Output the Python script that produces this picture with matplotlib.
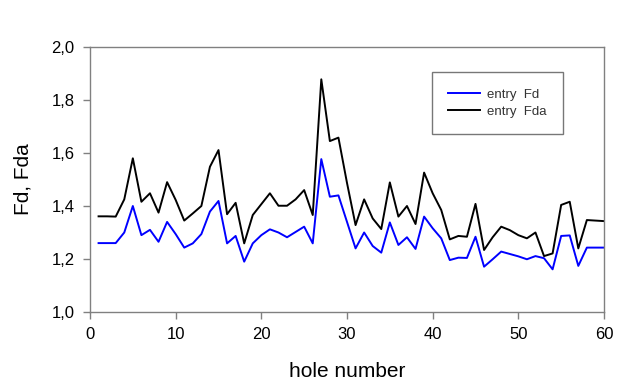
import matplotlib.pyplot as plt
from matplotlib.ticker import FuncFormatter

plt.rcParams['font.family'] = ['Liberation Sans', 'DejaVu Sans']

holes = list(range(1, 61))

entry_fd = [1.26, 1.26, 1.26, 1.30, 1.40, 1.29, 1.31, 1.265, 1.34, 1.294,
            1.243, 1.259, 1.294, 1.379, 1.419, 1.259, 1.287, 1.19, 1.259, 1.29,
            1.312, 1.30, 1.282, 1.302, 1.322, 1.259, 1.577, 1.435, 1.44, 1.34,
            1.24, 1.30, 1.249, 1.224, 1.338, 1.253, 1.282, 1.238, 1.36, 1.316,
            1.278, 1.196, 1.205, 1.204, 1.284, 1.171, 1.199, 1.228, 1.219, 1.21,
            1.199, 1.211, 1.203, 1.161, 1.287, 1.289, 1.174, 1.243, 1.243, 1.243]

entry_fda = [1.361, 1.361, 1.36, 1.425, 1.58, 1.416, 1.448, 1.375, 1.49, 1.423,
             1.345, 1.372, 1.40, 1.548, 1.611, 1.369, 1.412, 1.259, 1.366, 1.407,
             1.448, 1.401, 1.401, 1.425, 1.46, 1.366, 1.878, 1.645, 1.658, 1.487,
             1.328, 1.425, 1.353, 1.313, 1.489, 1.36, 1.40, 1.332, 1.526, 1.448,
             1.385, 1.274, 1.287, 1.284, 1.408, 1.234, 1.282, 1.322, 1.309, 1.29,
             1.278, 1.30, 1.211, 1.221, 1.404, 1.416, 1.24, 1.347, 1.345, 1.343]

fig = plt.figure(figsize=(6.38, 3.92), dpi=100)
ax = fig.add_axes([90 / 638, 1 - 312 / 392, 514 / 638, 265 / 392])

ax.plot(holes, entry_fd, color='#0000ff', lw=1.4, label='entry  Fd')
ax.plot(holes, entry_fda, color='black', lw=1.4, label='entry  Fda')

ax.set_xlim(0, 60)
ax.set_ylim(1.0, 2.0)
ax.set_xticks(range(0, 61, 10))
ax.set_yticks([1.0, 1.2, 1.4, 1.6, 1.8, 2.0])
ax.yaxis.set_major_formatter(FuncFormatter(lambda v, p: f'{v:.1f}'.replace('.', ',')))

for s in ax.spines.values():
    s.set_color('#808080')
    s.set_linewidth(1.0)
ax.tick_params(direction='out', length=5, width=1, color='#808080',
               labelsize=12, pad=6)

ax.set_xlabel('hole number', fontsize=15, labelpad=14)
ax.set_ylabel('Fd, Fda', fontsize=15, labelpad=14)

leg = ax.legend(loc='upper left', bbox_to_anchor=(342 / 514, 1 - 25 / 265),
                fontsize=9.5, frameon=True, fancybox=False, borderpad=1.25,
                handlelength=2.4, handletextpad=0.5, labelspacing=0.35,
                borderaxespad=0)
leg.get_frame().set_edgecolor('#555555')
leg.get_frame().set_linewidth(1.0)
for t in leg.get_texts():
    t.set_color('#333333')

fig.savefig('out.png', dpi=100)
